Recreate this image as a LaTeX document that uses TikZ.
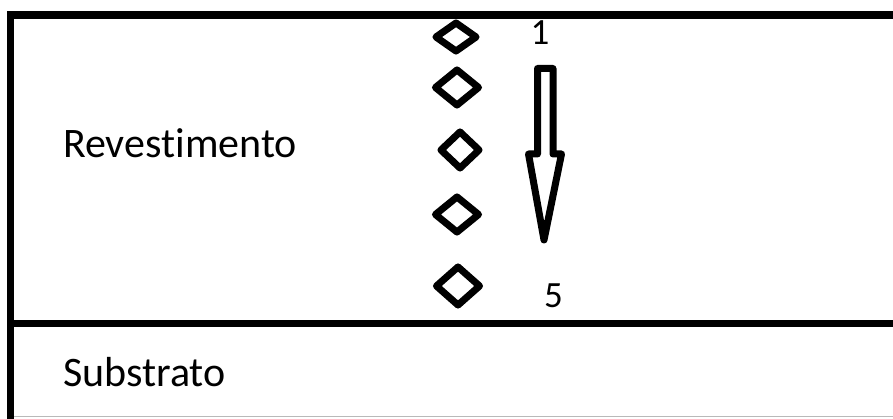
\documentclass[tikz,border=0pt]{standalone}
\usepackage{fontspec}
\setmainfont[RawFeature={-liga;-clig}]{Carlito}
\usetikzlibrary{shapes.geometric}
\begin{document}
\begin{tikzpicture}[x=1pt,y=-1pt,
  frameline/.style={line width=7.5pt,black,line join=miter},
  dmd/.style={draw,diamond,line width=7pt,inner sep=0pt,line join=round},
  lbl/.style={inner sep=0pt,anchor=base west,font=\fontsize{42}{42}\selectfont},
  num/.style={inner sep=0pt,anchor=base,font=\fontsize{37}{37}\selectfont},
  blockarrow/.style={draw,line width=7pt,line join=round}]
\useasboundingbox (0,0) rectangle (893,419);
% frame
\coordinate (tr) at (893,15);
\coordinate (tl) at (10.5,15);
\coordinate (bl) at (10.5,419);
\coordinate (ml) at (10.5,323.5);
\coordinate (mr) at (893,323.5);
\coordinate (gl) at (14,416.5);
\coordinate (gr) at (893,416.5);
\draw[frameline] (tr) -- (tl) -- (bl);
\draw[frameline] (ml) -- (mr);
\draw[gray!55,line width=1.5pt] (gl) -- (gr);
% labels
\node[lbl] (rev) at (63,157.5) {Revestimento};
\node[lbl] (sub) at (63,386) {Substrato};
% diamonds
\node[dmd,minimum width=43pt,minimum height=31pt] (d1) at (456,37) {};
\node[dmd,minimum width=46pt,minimum height=38pt] (d2) at (457,87.5) {};
\node[dmd,minimum width=41pt,minimum height=39pt] (d3) at (460,150) {};
\node[dmd,minimum width=46pt,minimum height=38pt] (d4) at (457,214.5) {};
\node[dmd,minimum width=46pt,minimum height=41pt] (d5) at (458,286) {};
% numbers
\node[num] (n1) at (540,45) {1};
\node[num] (n5) at (553.5,307) {5};
% block arrow
\coordinate (a1) at (537.5,154);
\coordinate (a2) at (528.5,154);
\coordinate (tip) at (544,240);
\coordinate (a4) at (561.5,154);
\coordinate (a5) at (553,154);
\coordinate (a6) at (553,68.5);
\coordinate (a7) at (537.5,68.5);
\draw[blockarrow] (a1) -- (a2) -- (tip) -- (a4) -- (a5) -- (a6) -- (a7) -- cycle;
\end{tikzpicture}
\end{document}
